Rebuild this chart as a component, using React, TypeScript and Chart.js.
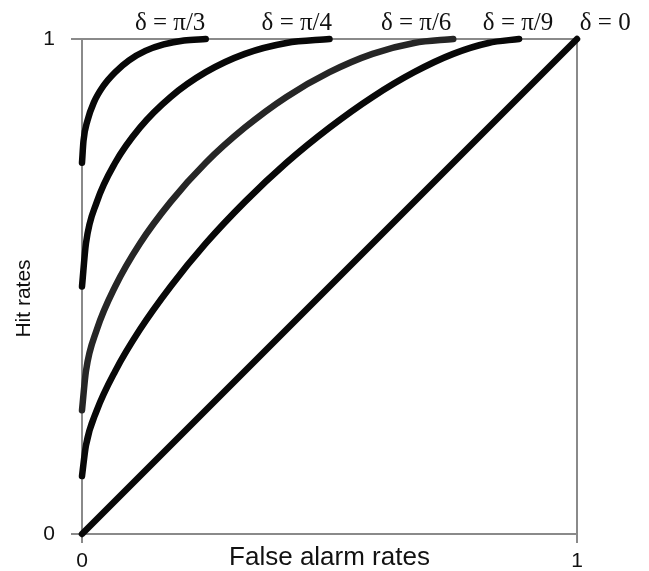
import React, { useEffect, useRef } from "react";
import { Chart, registerables } from "chart.js";

Chart.register(...registerables);

// ---- data ----
const curveLabels = ["δ = π/3", "δ = π/4", "δ = π/6", "δ = π/9", "δ = 0"];

const falseAlarmPi3 = [0, 0.003, 0.011, 0.024, 0.043, 0.067, 0.095, 0.128, 0.165, 0.206, 0.25];
const hitPi3 = [0.75, 0.794, 0.835, 0.872, 0.905, 0.933, 0.957, 0.976, 0.989, 0.997, 1];

const falseAlarmPi4 = [0, 0.008, 0.03, 0.067, 0.117, 0.179, 0.25, 0.329, 0.413, 0.5];
const hitPi4 = [0.5, 0.587, 0.671, 0.75, 0.821, 0.883, 0.933, 0.97, 0.992, 1];

const falseAlarmPi6 = [0, 0.008, 0.03, 0.067, 0.117, 0.179, 0.25, 0.329, 0.413, 0.5, 0.587, 0.671, 0.75];
const hitPi6 = [0.25, 0.329, 0.413, 0.5, 0.587, 0.671, 0.75, 0.821, 0.883, 0.933, 0.97, 0.992, 1];

const falseAlarmPi9 = [0, 0.008, 0.03, 0.067, 0.117, 0.179, 0.25, 0.329, 0.413, 0.5, 0.587, 0.671, 0.75, 0.821, 0.883];
const hitPi9 = [0.117, 0.179, 0.25, 0.329, 0.413, 0.5, 0.587, 0.671, 0.75, 0.821, 0.883, 0.933, 0.97, 0.992, 1];

const falseAlarmZero = [0, 1];
const hitZero = [0, 1];

const tickLabels = ["0", "1"];

// label anchors above the plot (in false-alarm units)
const labelAnchors = [0.178, 0.434, 0.675, 0.881, 1.057];

const seriesFA = [falseAlarmPi3, falseAlarmPi4, falseAlarmPi6, falseAlarmPi9, falseAlarmZero];
const seriesHit = [hitPi3, hitPi4, hitPi6, hitPi9, hitZero];
const lineColors = ["#080808", "#080808", "#262626", "#080808", "#080808"];

const SANS = "'Liberation Sans', Arial, sans-serif";
const SERIF = "'Liberation Serif', 'Times New Roman', serif";

const overlayPlugin = {
  id: "overlayText",
  afterDraw(chart: any) {
    const { ctx, chartArea, scales } = chart;
    ctx.save();
    ctx.fillStyle = "#111";
    ctx.font = `25px ${SERIF}`;
    ctx.textAlign = "center";
    ctx.textBaseline = "alphabetic";
    curveLabels.forEach((t, i) => {
      const x = scales.x.getPixelForValue(labelAnchors[i]);
      ctx.fillText(t, x, chartArea.top - 9);
    });
    // y axis title
    ctx.font = `21px ${SANS}`;
    ctx.textBaseline = "middle";
    ctx.translate(24, (chartArea.top + chartArea.bottom) / 2 + 12);
    ctx.rotate(-Math.PI / 2);
    ctx.fillText("Hit rates", 0, 0);
    ctx.restore();
  },
};

export default function App() {
  const ref = useRef<HTMLCanvasElement>(null);

  useEffect(() => {
    if (!ref.current) return;
    const chart = new Chart(ref.current, {
      type: "line",
      data: {
        datasets: seriesFA.map((fa, i) => ({
          label: curveLabels[i],
          data: fa.map((x, j) => ({ x, y: seriesHit[i][j] })),
          borderColor: lineColors[i],
          backgroundColor: lineColors[i],
          borderWidth: 6.5,
          pointRadius: 0,
          fill: false,
          clip: false as any,
          cubicInterpolationMode: "monotone" as const,
          borderCapStyle: "round" as const,
          borderJoinStyle: "round" as const,
        })),
      },
      options: {
        responsive: false,
        animation: false,
        layout: { padding: { top: 39, right: 72, left: 0, bottom: 0 } },
        plugins: {
          legend: { display: false },
          tooltip: { enabled: false },
        },
        scales: {
          x: {
            type: "linear",
            position: "bottom",
            min: 0,
            max: 1,
            ticks: {
              stepSize: 1,
              autoSkip: false,
              maxRotation: 0,
              padding: 6,
              color: "#111",
              font: { family: SANS, size: 21 },
              callback: (v: any) => tickLabels[Number(v)] ?? "",
            },
            grid: { color: "#8a8a8a", lineWidth: 2, tickLength: 9, drawOnChartArea: true },
            border: { color: "#8a8a8a", width: 2 },
            title: {
              display: true,
              text: "False alarm rates",
              color: "#111",
              font: { family: SANS, size: 26, lineHeight: 1 },
              padding: { top: 0, bottom: 0 },
            },
            afterFit: (s: any) => {
              s.height = 37;
            },
          },
          y: {
            type: "linear",
            position: "left",
            min: 0,
            max: 1,
            ticks: {
              stepSize: 1,
              padding: 16,
              color: "#111",
              font: { family: SANS, size: 21 },
              callback: (v: any) => tickLabels[Number(v)] ?? "",
            },
            grid: { color: "#8a8a8a", lineWidth: 2, tickLength: 11, drawOnChartArea: true },
            border: { color: "#8a8a8a", width: 2 },
            title: { display: false },
            afterFit: (s: any) => {
              s.width = 82;
            },
          },
        },
      },
      plugins: [overlayPlugin],
    });
    return () => chart.destroy();
  }, []);

  return (
    <div style={{ position: "fixed", left: 0, top: 0, width: 649, height: 571, background: "#fff" }}>
      <canvas ref={ref} width={649} height={571} style={{ width: 649, height: 571, display: "block" }} />
    </div>
  );
}
